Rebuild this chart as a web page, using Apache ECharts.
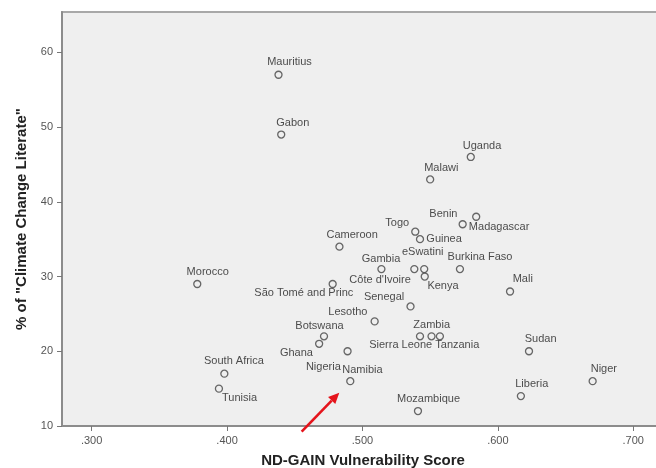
<!DOCTYPE html>
<html>
<head>
<meta charset="utf-8">
<script src="https://cdn.jsdelivr.net/npm/echarts@6/dist/echarts.min.js"></script>
<style>
  html, body { margin: 0; padding: 0; background: #ffffff; }
  #chart { width: 656px; height: 468px; }
</style>
</head>
<body>
<div id="chart"></div>
<script>
// ---- data ----
const countries = ['Mauritius','Gabon','Uganda','Malawi','Benin','Madagascar','Togo','Guinea','Cameroon','Gambia','eSwatini',"Côte d'Ivoire",'Burkina Faso','Kenya','São Tomé and Princ','Mali','Morocco','Senegal','Lesotho','Botswana','Ghana','Zambia','Sierra Leone','Tanzania','Nigeria','Namibia','Sudan','South Africa','Tunisia','Niger','Liberia','Mozambique'];
const vulnerability = [0.438,0.440,0.580,0.550,0.574,0.584,0.539,0.5425,0.483,0.514,0.5456,0.5383,0.572,0.546,0.478,0.609,0.378,0.5355,0.509,0.4716,0.468,0.5425,0.551,0.5572,0.489,0.491,0.623,0.398,0.394,0.670,0.617,0.541];
const literacy = [57,49,46,43,37,38,36,35,34,31,31,31,31,30,29,28,29,26,24,22,21,22,22,22,20,16,20,17,15,16,14,12];
const xTicks = [0.3,0.4,0.5,0.6,0.7];
const yTicks = [10,20,30,40,50,60];
const xTitle = 'ND-GAIN Vulnerability Score';
const yTitle = '% of "Climate Change Literate"';
// annotation arrow (data coords): tail -> tip
const arrowTail = [0.4551, 9.24];
const arrowTip = [0.4829, 14.46];

// ---- label placement (style only): [left offset px, vertical center offset px] ----
const labelOffsets = [[-10.7,-12],[-4.3,-11.3],[-7.4,-10.6],[-5.3,-11],[-32.7,-9.3],[-6.7,10.7],[-29.3,-8.3],[7,0],[-12.3,-11.3],[-19,-9.7],[-21.6,-16.4],[-64.3,11.3],[-11.7,-11.4],[3.3,10],[-77.7,10],[3.3,-11.6],[-10,-11],[-46,-8.7],[-45.7,-9],[-28,-10],[-38.6,10],[-6,-11],[-61.7,9.3],[-4,9.3],[-41,16],[-7.4,-11],[-3.6,-11.3],[-19.7,-12],[3.7,10],[-1.3,-12],[-5,-11],[-20.3,-11]];

const SYM = 7;
const data = countries.map((c, i) => ({
  name: c,
  value: [vulnerability[i], literacy[i]],
  label: {
    show: true,
    formatter: c,
    position: [labelOffsets[i][0] + SYM / 2, labelOffsets[i][1] + SYM / 2],
    align: 'left',
    verticalAlign: 'middle'
  }
}));

const chart = echarts.init(document.getElementById('chart'), null, { renderer: 'canvas' });
const fontFam = '"Liberation Sans", Arial, sans-serif';

chart.setOption({
  backgroundColor: '#ffffff',
  animation: false,
  grid: {
    left: 62, top: 12, width: 602, height: 414,
    outerBoundsMode: 'none',
    containLabel: false,
    show: true, backgroundColor: '#efefef', borderColor: '#a8a8a8', borderWidth: 2
  },
  xAxis: {
    type: 'value',
    min: 0.2781, max: 0.7227,
    name: xTitle,
    nameLocation: 'middle',
    nameGap: 27,
    nameTextStyle: { fontFamily: fontFam, fontWeight: 'bold', fontSize: 15, color: '#222' },
    splitLine: { show: false },
    axisLine: { show: true, onZero: false, lineStyle: { color: '#8c8c8c', width: 2 } },
    axisTick: { show: true, customValues: xTicks, length: 5, lineStyle: { color: '#777', width: 1 } },
    axisLabel: {
      customValues: xTicks, margin: 9, fontFamily: fontFam, fontSize: 11, color: '#555',
      formatter: v => v.toFixed(3).replace(/^0/, '')
    }
  },
  yAxis: {
    type: 'value',
    min: 10, max: 65.4,
    name: yTitle,
    nameLocation: 'middle',
    nameGap: 33,
    nameRotate: 90,
    nameTextStyle: { fontFamily: fontFam, fontWeight: 'bold', fontSize: 15, color: '#222' },
    splitLine: { show: false },
    axisLine: { show: true, onZero: false, lineStyle: { color: '#8c8c8c', width: 2 } },
    axisTick: { show: true, customValues: yTicks, length: 5, lineStyle: { color: '#777', width: 1 } },
    axisLabel: { customValues: yTicks, margin: 9, fontFamily: fontFam, fontSize: 11, color: '#555' }
  },
  series: [{
    type: 'scatter',
    symbol: 'circle',
    symbolSize: SYM,
    itemStyle: { color: 'rgba(0,0,0,0)', borderColor: '#444', borderWidth: 1.3 },
    label: { fontFamily: fontFam, fontSize: 11, color: '#222' },
    labelLayout: { hideOverlap: false },
    emphasis: { disabled: true },
    data: data
  }]
});

// red arrow annotation, positioned through the axes
const p0 = chart.convertToPixel({ gridIndex: 0 }, arrowTail);
const p1 = chart.convertToPixel({ gridIndex: 0 }, arrowTip);
const ang = Math.atan2(p1[1] - p0[1], p1[0] - p0[0]);
const headLen = 11, headW = 5;
const bx = p1[0] - headLen * Math.cos(ang), by = p1[1] - headLen * Math.sin(ang);
const nx = -Math.sin(ang), ny = Math.cos(ang);
chart.setOption({
  graphic: [
    { type: 'line', shape: { x1: p0[0], y1: p0[1], x2: bx, y2: by }, style: { stroke: '#e5141c', lineWidth: 2.6 }, z: 100 },
    { type: 'polygon', shape: { points: [[p1[0], p1[1]], [bx + nx * headW, by + ny * headW], [bx - nx * headW, by - ny * headW]] }, style: { fill: '#e5141c' }, z: 100 }
  ]
});
</script>
</body>
</html>
